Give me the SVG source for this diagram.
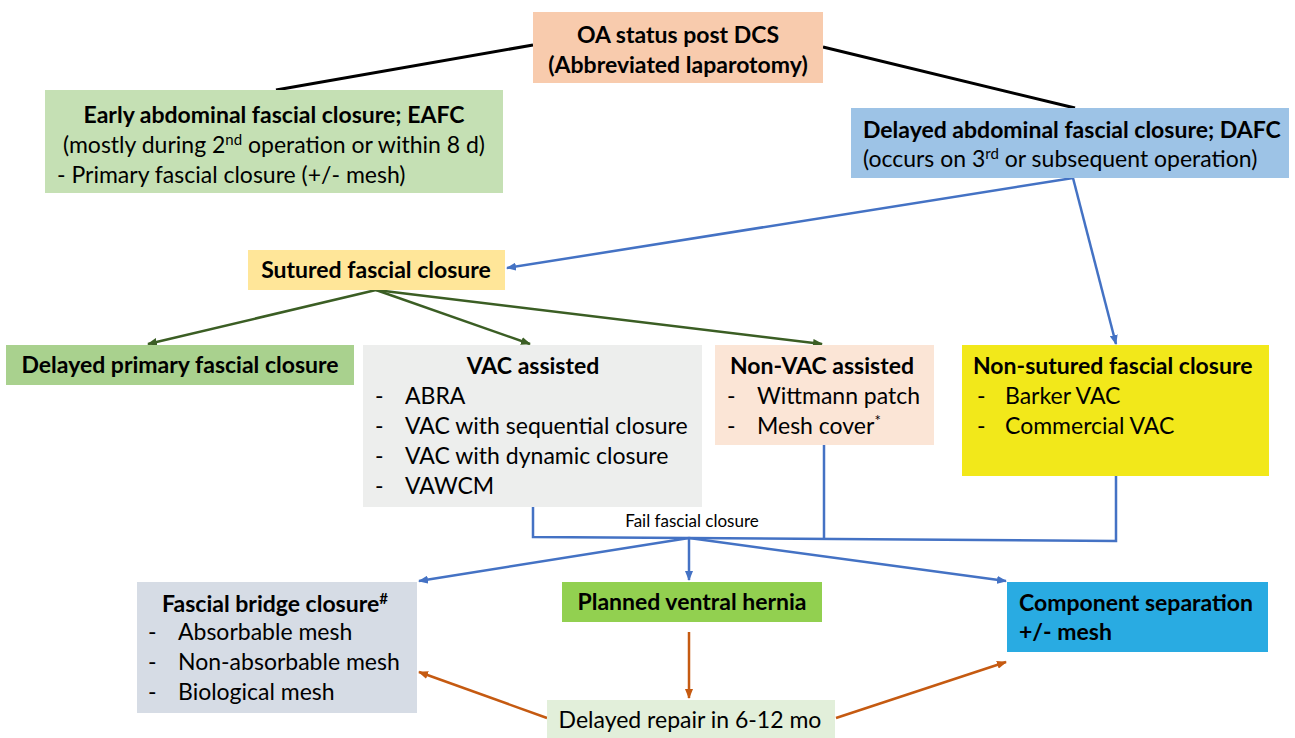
<svg xmlns="http://www.w3.org/2000/svg" width="1295" height="738" viewBox="0 0 1295 738">
<style>
text{font-family:Lato,"Open Sans","Liberation Sans",sans-serif;font-size:23px;fill:#000}
.b{font-weight:bold}
.c{text-anchor:middle}
.s{font-size:17px}
.k{stroke:#000;stroke-width:3;fill:none}
.bl{stroke:#4472c4;stroke-width:2.5;fill:none}
.gr{stroke:#3b5e24;stroke-width:2.5;fill:none}
.or{stroke:#c55a11;stroke-width:2.5;fill:none}
</style>
<defs>
<marker id="ab" markerWidth="10" markerHeight="8" refX="9" refY="4" orient="auto" markerUnits="userSpaceOnUse"><path d="M0,0 L10,4 L0,8 z" fill="#4472c4"/></marker>
<marker id="ag" markerWidth="10" markerHeight="8" refX="9" refY="4" orient="auto" markerUnits="userSpaceOnUse"><path d="M0,0 L10,4 L0,8 z" fill="#3b5e24"/></marker>
<marker id="ao" markerWidth="10" markerHeight="8" refX="9" refY="4" orient="auto" markerUnits="userSpaceOnUse"><path d="M0,0 L10,4 L0,8 z" fill="#c55a11"/></marker>
</defs>
<rect width="1295" height="738" fill="#fff"/>
<g id="connectors">
<line class="k" x1="533" y1="45" x2="276" y2="90"/>
<line class="k" x1="823" y1="47" x2="1075" y2="108"/>
<line class="bl" x1="1073" y1="178" x2="507" y2="268" marker-end="url(#ab)"/>
<line class="bl" x1="1073" y1="178" x2="1116" y2="344" marker-end="url(#ab)"/>
<line class="gr" x1="376" y1="290" x2="148" y2="344" marker-end="url(#ag)"/>
<line class="gr" x1="376" y1="290" x2="530" y2="344" marker-end="url(#ag)"/>
<line class="gr" x1="376" y1="290" x2="822" y2="344" marker-end="url(#ag)"/>
<polyline class="bl" points="533,507 533,537 1116,541 1116,476"/>
<line class="bl" x1="824" y1="445" x2="824" y2="538"/>
<line class="bl" x1="689" y1="538" x2="419" y2="581" marker-end="url(#ab)"/>
<line class="bl" x1="689" y1="538" x2="689" y2="580" marker-end="url(#ab)"/>
<line class="bl" x1="689" y1="538" x2="1006" y2="581" marker-end="url(#ab)"/>
<line class="or" x1="689" y1="632" x2="689" y2="698" marker-end="url(#ao)"/>
<line class="or" x1="547" y1="718" x2="419" y2="672" marker-end="url(#ao)"/>
<line class="or" x1="836" y1="718" x2="1006" y2="662" marker-end="url(#ao)"/>
<text class="s" x="692" y="527" text-anchor="middle">Fail fascial closure</text>
</g>
<g id="oa">
<rect x="533" y="12" width="290" height="71" fill="#f8cbad"/>
<text class="b c" x="678" y="43">OA status post DCS</text>
<text class="b c" x="678" y="73">(Abbreviated laparotomy)</text>
</g>
<g id="eafc">
<rect x="45" y="90" width="458" height="103" fill="#c5e0b4"/>
<text class="b c" x="274" y="123">Early abdominal fascial closure; EAFC</text>
<text class="c" x="274" y="153">(mostly during 2<tspan dy="-8" font-size="15">nd</tspan><tspan dy="8"> operation or within 8 d)</tspan></text>
<text x="57" y="183">- Primary fascial closure (+/- mesh)</text>
</g>
<g id="dafc">
<rect x="851" y="108" width="438" height="70" fill="#9dc3e6"/>
<text class="b" x="863" y="138">Delayed abdominal fascial closure; DAFC</text>
<text x="863" y="167">(occurs on 3<tspan dy="-8" font-size="15">rd</tspan><tspan dy="8"> or subsequent operation)</tspan></text>
</g>
<g id="sutured">
<rect x="248" y="250" width="257" height="40" fill="#ffe699"/>
<text class="b c" x="376" y="278">Sutured fascial closure</text>
</g>
<g id="delayed-primary">
<rect x="6" y="345" width="348" height="40" fill="#a9d18e"/>
<text class="b c" x="180" y="373">Delayed primary fascial closure</text>
</g>
<g id="vac">
<rect x="363" y="345" width="339" height="162" fill="#edeeed"/>
<text class="b c" x="533" y="374">VAC assisted</text>
<text x="375" y="404">-</text><text x="405" y="404">ABRA</text>
<text x="375" y="434">-</text><text x="405" y="434">VAC with sequential closure</text>
<text x="375" y="464">-</text><text x="405" y="464">VAC with dynamic closure</text>
<text x="375" y="494">-</text><text x="405" y="494">VAWCM</text>
</g>
<g id="nonvac">
<rect x="715" y="345" width="219" height="100" fill="#fbe5d6"/>
<text class="b c" x="822" y="374">Non-VAC assisted</text>
<text x="727" y="404">-</text><text x="757" y="404">Wittmann patch</text>
<text x="727" y="434">-</text><text x="757" y="434">Mesh cover<tspan dy="-8" font-size="15">*</tspan></text>
</g>
<g id="nonsutured">
<rect x="962" y="345" width="307" height="131" fill="#f2e81a"/>
<text class="b" x="973" y="374">Non-sutured fascial closure</text>
<text x="977" y="404">-</text><text x="1005" y="404">Barker VAC</text>
<text x="977" y="434">-</text><text x="1005" y="434">Commercial VAC</text>
</g>
<g id="bridge">
<rect x="137" y="582" width="280" height="131" fill="#d6dce5"/>
<text class="b c" x="275" y="612">Fascial bridge closure<tspan dy="-8" font-size="15">#</tspan></text>
<text x="148" y="640">-</text><text x="178" y="640">Absorbable mesh</text>
<text x="148" y="670">-</text><text x="178" y="670">Non-absorbable mesh</text>
<text x="148" y="700">-</text><text x="178" y="700">Biological mesh</text>
</g>
<g id="hernia">
<rect x="562" y="582" width="260" height="40" fill="#92d050"/>
<text class="b c" x="692" y="610">Planned ventral hernia</text>
</g>
<g id="component">
<rect x="1007" y="582" width="261" height="70" fill="#29abe2"/>
<text class="b" x="1019" y="611">Component separation</text>
<text class="b" x="1019" y="640">+/- mesh</text>
</g>
<g id="repair">
<rect x="547" y="700" width="288" height="40" fill="#e2efda"/>
<text class="c" x="690" y="728">Delayed repair in 6-12 mo</text>
</g>
</svg>
